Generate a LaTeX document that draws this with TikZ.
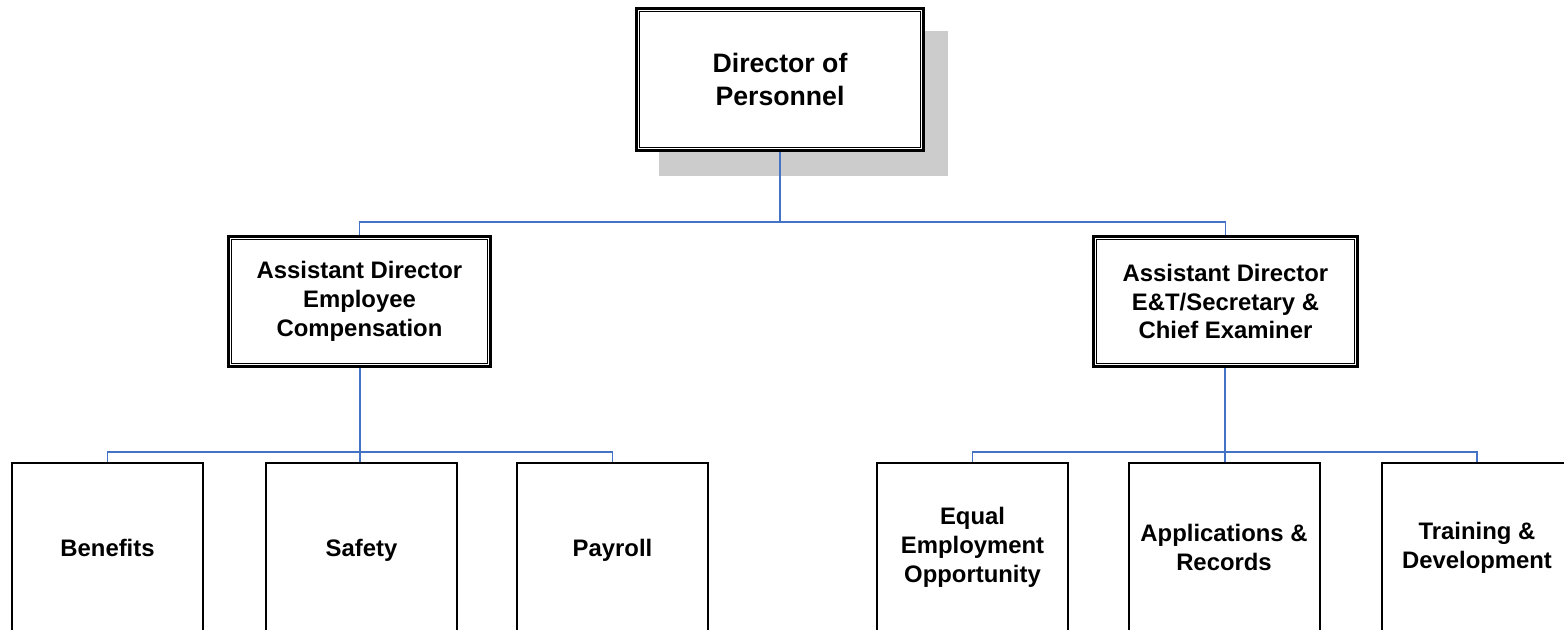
\documentclass[tikz,border=0pt]{standalone}
\usepackage{fontspec}
\setmainfont{Liberation Sans}
\begin{document}
\begin{tikzpicture}[x=0.75pt,y=-0.75pt,
  lbl/.style={font=\bfseries\fontsize{17.9}{21.6}\selectfont,align=center,text=black},
  dbox/.style={lbl,draw=black,line width=2.4pt,inner sep=0pt,fill=white},
  sbox/.style={lbl,draw=black,line width=1.5pt,inner sep=0pt,fill=white,minimum width=143.25pt,minimum height=126.75pt},
  conn/.style={draw={rgb,255:red,68;green,114;blue,196},line width=1.4pt}]
\useasboundingbox (0,0) rectangle (1564,629);
\clip (0,0) rectangle (1564,629);
% shadow
\fill[gray!40] (659,31) rectangle (948,176);
% top box
\node[dbox,minimum width=215pt,minimum height=106.5pt,font=\bfseries\fontsize{20}{24.8}\selectfont] (top) at (780,79.5) {Director of\\Personnel};
\draw[line width=1.1pt] ([shift={(4.5,-4.5)}]top.south west) rectangle ([shift={(-4.5,4.5)}]top.north east);
% middle boxes
\node[dbox,minimum width=196.5pt,minimum height=97.5pt] (ml) at (359.5,301.5) {Assistant Director\\Employee\\Compensation};
\draw[line width=1.1pt] ([shift={(4.5,-4.5)}]ml.south west) rectangle ([shift={(-4.5,4.5)}]ml.north east);
\node[dbox,minimum width=198pt,minimum height=97.5pt] (mr) at (1225.5,301.5) {Assistant Director\\E\&T/Secretary \&\\Chief Examiner};
\draw[line width=1.1pt] ([shift={(4.5,-4.5)}]mr.south west) rectangle ([shift={(-4.5,4.5)}]mr.north east);
% bottom boxes
\node[sbox] (b1) at (107.5,547.5) {Benefits};
\node[sbox] (b2) at (361.5,547.5) {\raisebox{0pt}[\height][0pt]{Safety}};
\node[sbox] (b3) at (612.5,547.5) {\raisebox{0pt}[\height][0pt]{Payroll}};
\node[sbox] (b4) at (972.5,547.5) {Equal\\Employment\\Opportunity};
\node[sbox] (b5) at (1224,547.5) {Applications \&\\Records};
\node[sbox] (b6) at (1477,547.5) {Training \&\\Development};
% connectors
\coordinate (j1) at (780,222);
\draw[conn] (top.south) -- (j1);
\draw[conn] (ml.north) |- (j1) -| (mr.north);
\coordinate (j2) at (360,452);
\draw[conn] (ml.south -| j2) -- (j2);
\draw[conn] (b1.north) |- (j2) -| (b3.north);
\draw[conn] (j2) -- (j2 |- b2.north);
\coordinate (j3) at (1225,452);
\draw[conn] (mr.south -| j3) -- (j3);
\draw[conn] (b4.north) |- (j3) -| (b6.north);
\draw[conn] (j3) -- (j3 |- b5.north);
\end{tikzpicture}
\end{document}
